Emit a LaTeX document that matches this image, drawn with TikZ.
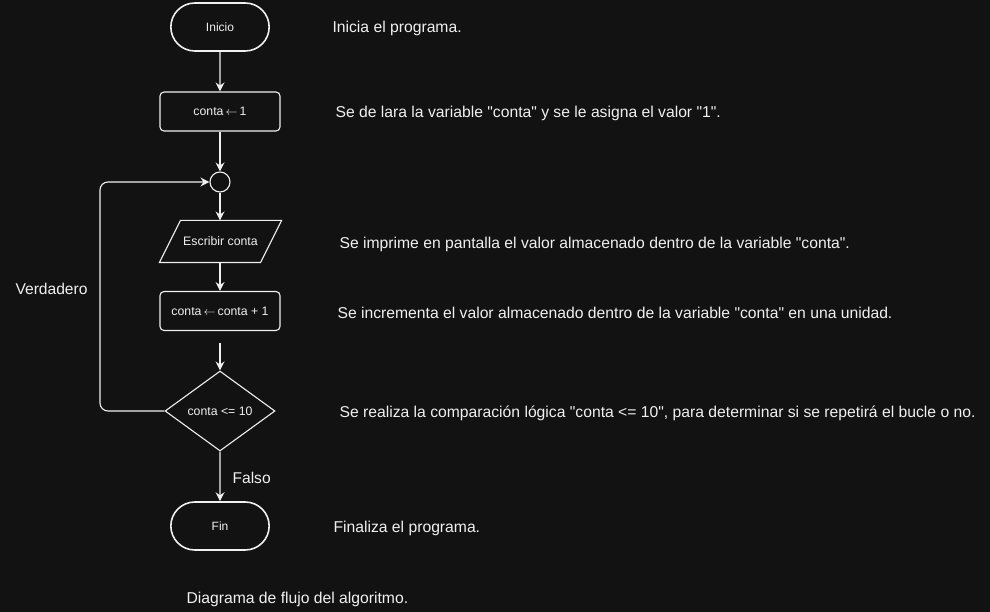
\documentclass[tikz,border=0pt]{standalone}
\usepackage{fontspec}
\setmainfont{Liberation Sans}[Ligatures=TeXOff]
\usetikzlibrary{arrows.meta,shapes.geometric,shapes.misc}
\definecolor{bg}{HTML}{121212}
\definecolor{fg}{HTML}{F0F0F0}
\newcommand{\asig}{\,$\leftarrow$\,}
\begin{document}
\begin{tikzpicture}[x=1pt,y=-1pt,
  line width=1.1pt,
  every node/.style={text=fg},
  conn/.style={draw=fg,-{Stealth[length=9pt,width=9pt,inset=3pt]}},
  term/.style={draw=fg,line width=1.6pt,rounded rectangle,minimum width=105pt,minimum height=48pt,font=\fontsize{12}{14}\selectfont},
  proc/.style={draw=fg,rectangle,rounded corners=4pt,minimum width=120pt,minimum height=39pt,font=\fontsize{12.3}{14}\selectfont},
  desc/.style={anchor=west,inner sep=0pt,font=\fontsize{15.7}{18}\selectfont},
  lbl/.style={inner sep=0pt,font=\fontsize{15.6}{18}\selectfont}]
\fill[bg] (0,0) rectangle (990,612);
\useasboundingbox (0,0) rectangle (990,612);
\node[term] (ini) at (220,27) {Inicio};
\node[proc] (c1) at (220,111.5) {conta\asig 1};
\node[draw=fg,circle,minimum size=20pt,inner sep=0pt] (j) at (220,182) {};
\node[minimum width=121pt,minimum height=41pt,inner sep=0pt,font=\fontsize{12.3}{14}\selectfont] (wr) at (220.5,241.5) {Escribir conta};
\draw[fg] ([xshift=21pt]wr.north west) -- (wr.north east) -- ([xshift=-21pt]wr.south east) -- (wr.south west) -- cycle;
\node[proc] (inc) at (220,311) {conta\asig conta + 1};
\coordinate (gap) at (220,343);
\node[draw=fg,diamond,minimum width=110pt,minimum height=80pt,inner sep=0pt,aspect=1.375,font=\fontsize{12.3}{14}\selectfont] (dec) at (220,411) {conta <= 10};
\node[term] (fin) at (220,526) {Fin};
\coordinate (lc) at (100,411);
\draw[conn] (ini) -- (c1);
\draw[conn] (c1) -- (j);
\draw[conn] (j) -- (wr.north -| j);
\draw[conn] (wr.south -| j) -- (inc);
\draw[conn] (gap) -- (dec);
\draw[conn] (dec) -- (fin);
\draw[conn,rounded corners=8pt] (dec.west) -- (lc) -- (lc |- j) -- (j.west);
\node[lbl,anchor=west] (fl) at (232,478) {Falso};
\node[lbl,anchor=west] (ver) at (15,289) {Verdadero};
\node[desc] (d1) at (332,28) {Inicia el programa.};
\node[desc] (d2) at (335,113) {Se de lara la variable "conta" y se le asigna el valor "1".};
\node[desc] (d3) at (339,244) {Se imprime en pantalla el valor almacenado dentro de la variable "conta".};
\node[desc] (d4) at (337,313) {Se incrementa el valor almacenado dentro de la variable "conta" en una unidad.};
\node[desc] (d5) at (339,413) {Se realiza la comparación lógica "conta <= 10", para determinar si se repetirá el bucle o no.};
\node[desc] (d6) at (333,528) {Finaliza el programa.};
\node[desc] (cap) at (186,599) {Diagrama de flujo del algoritmo.};
\end{tikzpicture}
\end{document}
